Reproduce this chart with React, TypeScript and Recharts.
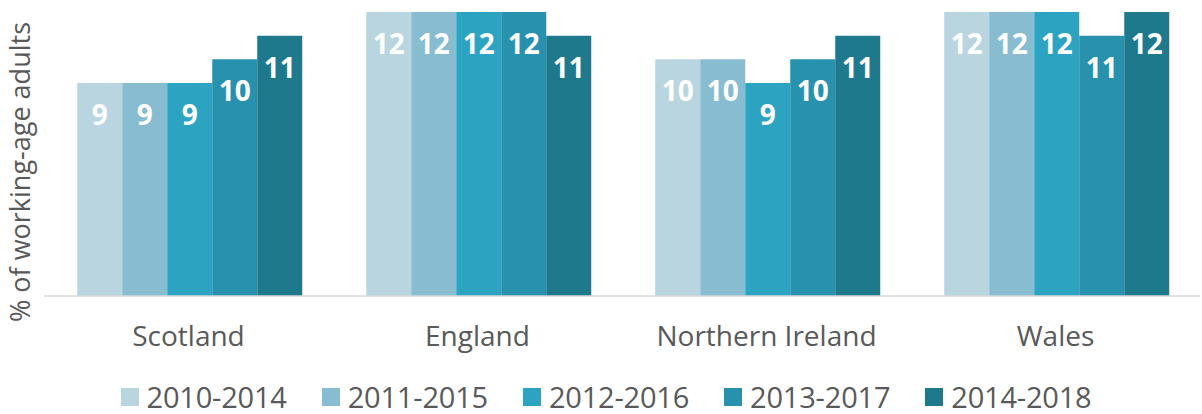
import React from 'react';
import { BarChart, Bar, XAxis, YAxis, Legend, LabelList } from 'recharts';

const categories = ['Scotland', 'England', 'Northern Ireland', 'Wales'];
const s2010_2014 = [9, 12, 10, 12];
const s2011_2015 = [9, 12, 10, 12];
const s2012_2016 = [9, 12, 9, 12];
const s2013_2017 = [10, 12, 10, 11];
const s2014_2018 = [11, 11, 11, 12];
const seriesNames = ['2010-2014', '2011-2015', '2012-2016', '2013-2017', '2014-2018'];
const seriesColors = ['#B9D5E0', '#88BCD0', '#2CA3C1', '#2791AE', '#1F798D'];
const yLabel = '% of working-age adults';

const seriesValues = [s2010_2014, s2011_2015, s2012_2016, s2013_2017, s2014_2018];
const data = categories.map((c, i) => {
  const row: Record<string, string | number> = { name: c };
  seriesNames.forEach((s, k) => {
    row[s] = seriesValues[k][i];
  });
  return row;
});

const FONT = '"Open Sans", sans-serif';

const renderLegend = (props: any) => {
  const payload = props.payload || [];
  return (
    <div style={{ height: 60, display: 'flex', justifyContent: 'center', alignItems: 'center', paddingTop: 26, paddingLeft: 12, boxSizing: 'border-box', fontFamily: FONT }}>
      {payload.map((p: any, i: number) => (
        <div key={i} style={{ display: 'flex', alignItems: 'center', marginRight: i < payload.length - 1 ? 35 : 0 }}>
          <div style={{ width: 18, height: 18, background: p.color, marginRight: 8 }} />
          <span style={{ fontSize: 29, color: '#595959', lineHeight: '30px', letterSpacing: -0.2 }}>{p.value}</span>
        </div>
      ))}
    </div>
  );
};

const YLabel = () => (
  <text
    x={0}
    y={0}
    transform="translate(30,172) rotate(-90)"
    textAnchor="middle"
    fontFamily={FONT}
    fontSize={27}
    fill="#595959"
  >
    {yLabel}
  </text>
);

export default function App() {
  return (
    <div style={{ position: 'absolute', left: 0, top: 0, width: 1202, height: 414, background: '#fff' }}>
      <BarChart
        width={1202}
        height={414}
        data={data}
        margin={{ top: 12, right: 2, left: 0, bottom: 0 }}
        barCategoryGap="11.5%"
        barGap={0}
      >
        <XAxis
          dataKey="name"
          tickLine={false}
          axisLine={{ stroke: '#D9D9D9', strokeWidth: 1.5 }}
          tick={{ fontSize: 28, fill: '#595959', fontFamily: FONT }}
          tickMargin={24}
          height={58}
          interval={0}
        />
        <YAxis
          width={44}
          domain={[0, 12]}
          ticks={[0, 12]}
          tick={false}
          tickLine={false}
          axisLine={false}
          label={<YLabel />}
        />
        <Legend verticalAlign="bottom" content={renderLegend} />
        {seriesNames.map((s, k) => (
          <Bar key={s} dataKey={s} fill={seriesColors[k]} isAnimationActive={false}>
            <LabelList
              dataKey={s}
              position="insideTop"
              offset={22}
              fill="#FFFFFF"
              fontSize={28}
              fontWeight="bold"
              fontFamily={FONT}
            />
          </Bar>
        ))}
      </BarChart>
    </div>
  );
}
